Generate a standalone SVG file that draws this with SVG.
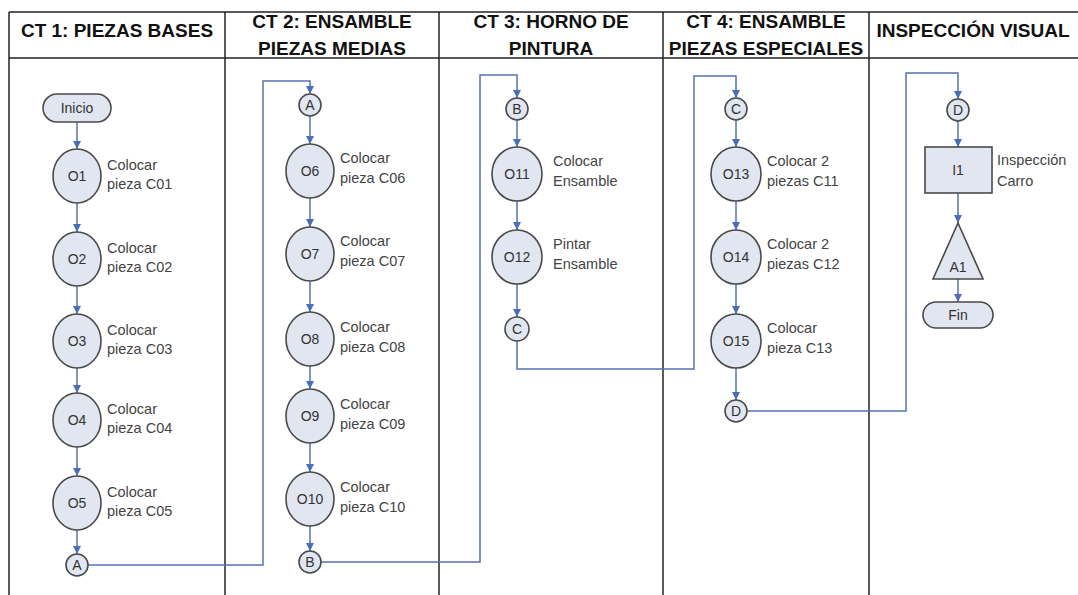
<svg xmlns="http://www.w3.org/2000/svg" width="1078" height="595" viewBox="0 0 1078 595">
<style>
.grid{stroke:#222;stroke-width:1.5;fill:none}
.hdr{font-family:"Liberation Sans",Arial,sans-serif;font-weight:bold;font-size:19px;fill:#111;text-anchor:middle}
.nd{fill:#e1e6f0;stroke:#4a4a4a;stroke-width:1.6}
.nt{font-family:"Liberation Sans",Arial,sans-serif;font-size:14px;fill:#333;text-anchor:middle}
.lb{font-family:"Liberation Sans",Arial,sans-serif;font-size:14.5px;fill:#444}
.cn{fill:none;stroke:#5473b0;stroke-width:1.5;marker-end:url(#ah)}
</style>
<defs>
<marker id="ah" viewBox="0 0 10 10" refX="10" refY="5" markerWidth="8" markerHeight="8" markerUnits="userSpaceOnUse" orient="auto">
<path d="M0,0 L10,5 L0,10 z" fill="#4a6fb8"/>
</marker>
</defs>
<rect width="1078" height="595" fill="#fff"/>
<g id="table">
<line class="grid" x1="9" y1="12" x2="1078" y2="12"/>
<line class="grid" x1="9" y1="58" x2="1078" y2="58"/>
<line class="grid" x1="9" y1="12" x2="9" y2="595"/>
<line class="grid" x1="225" y1="12" x2="225" y2="595"/>
<line class="grid" x1="439" y1="12" x2="439" y2="595"/>
<line class="grid" x1="663" y1="12" x2="663" y2="595"/>
<line class="grid" x1="869" y1="12" x2="869" y2="595"/>
<text class="hdr" x="117" y="37">CT 1: PIEZAS BASES</text>
<text class="hdr" x="332" y="28">CT 2: ENSAMBLE</text>
<text class="hdr" x="332" y="55">PIEZAS MEDIAS</text>
<text class="hdr" x="551" y="28">CT 3: HORNO DE</text>
<text class="hdr" x="551" y="55">PINTURA</text>
<text class="hdr" x="766" y="28">CT 4: ENSAMBLE</text>
<text class="hdr" x="766" y="55">PIEZAS ESPECIALES</text>
<text class="hdr" x="973" y="37">INSPECCIÓN VISUAL</text>
</g>
<g id="connectors">
<path class="cn" d="M77,122 V149"/>
<path class="cn" d="M77,203 V232"/>
<path class="cn" d="M77,286 V314"/>
<path class="cn" d="M77,368 V393"/>
<path class="cn" d="M77,447 V476"/>
<path class="cn" d="M77,530 V554"/>
<path class="cn" d="M88,565 H263 V81 H310 V94"/>
<path class="cn" d="M310,116 V144"/>
<path class="cn" d="M310,198 V227"/>
<path class="cn" d="M310,281 V312"/>
<path class="cn" d="M310,366 V389"/>
<path class="cn" d="M310,443 V472"/>
<path class="cn" d="M310,526 V551"/>
<path class="cn" d="M321,562 H480 V75 H517 V98"/>
<path class="cn" d="M517,120 V147"/>
<path class="cn" d="M517,201 V230"/>
<path class="cn" d="M517,284 V317"/>
<path class="cn" d="M517,341 V369 H694 V76 H736 V98"/>
<path class="cn" d="M736,120 V147"/>
<path class="cn" d="M736,201 V230"/>
<path class="cn" d="M736,284 V314"/>
<path class="cn" d="M736,368 V400"/>
<path class="cn" d="M747,411 H906 V73 H958 V99"/>
<path class="cn" d="M958,121 V147"/>
<path class="cn" d="M958,193 V223"/>
<path class="cn" d="M958,279 V302"/>
</g>
<g id="inicio"><rect class="nd" x="43" y="94" width="68" height="28" rx="14"/><text class="nt" x="77" y="113">Inicio</text></g>
<g id="o1"><ellipse class="nd" cx="77" cy="176" rx="24" ry="27"/><text class="nt" x="77" y="181">O1</text><text class="lb" x="107" y="170">Colocar</text><text class="lb" x="107" y="189">pieza C01</text></g>
<g id="o2"><ellipse class="nd" cx="77" cy="259" rx="24" ry="27"/><text class="nt" x="77" y="264">O2</text><text class="lb" x="107" y="253">Colocar</text><text class="lb" x="107" y="272">pieza C02</text></g>
<g id="o3"><ellipse class="nd" cx="77" cy="341" rx="24" ry="27"/><text class="nt" x="77" y="346">O3</text><text class="lb" x="107" y="335">Colocar</text><text class="lb" x="107" y="354">pieza C03</text></g>
<g id="o4"><ellipse class="nd" cx="77" cy="420" rx="24" ry="27"/><text class="nt" x="77" y="425">O4</text><text class="lb" x="107" y="414">Colocar</text><text class="lb" x="107" y="433">pieza C04</text></g>
<g id="o5"><ellipse class="nd" cx="77" cy="503" rx="24" ry="27"/><text class="nt" x="77" y="508">O5</text><text class="lb" x="107" y="497">Colocar</text><text class="lb" x="107" y="516">pieza C05</text></g>
<g id="a-out"><circle class="nd" cx="77" cy="565" r="11"/><text class="nt" x="77" y="570">A</text></g>
<g id="a-in"><circle class="nd" cx="310" cy="105" r="11"/><text class="nt" x="310" y="110">A</text></g>
<g id="o6"><ellipse class="nd" cx="310" cy="171" rx="24" ry="27"/><text class="nt" x="310" y="176">O6</text><text class="lb" x="340" y="163">Colocar</text><text class="lb" x="340" y="183">pieza C06</text></g>
<g id="o7"><ellipse class="nd" cx="310" cy="254" rx="24" ry="27"/><text class="nt" x="310" y="259">O7</text><text class="lb" x="340" y="246">Colocar</text><text class="lb" x="340" y="266">pieza C07</text></g>
<g id="o8"><ellipse class="nd" cx="310" cy="339" rx="24" ry="27"/><text class="nt" x="310" y="344">O8</text><text class="lb" x="340" y="332">Colocar</text><text class="lb" x="340" y="352">pieza C08</text></g>
<g id="o9"><ellipse class="nd" cx="310" cy="416" rx="24" ry="27"/><text class="nt" x="310" y="421">O9</text><text class="lb" x="340" y="409">Colocar</text><text class="lb" x="340" y="429">pieza C09</text></g>
<g id="o10"><ellipse class="nd" cx="310" cy="499" rx="24" ry="27"/><text class="nt" x="310" y="504">O10</text><text class="lb" x="340" y="492">Colocar</text><text class="lb" x="340" y="512">pieza C10</text></g>
<g id="b-out"><circle class="nd" cx="310" cy="562" r="11"/><text class="nt" x="310" y="567">B</text></g>
<g id="b-in"><circle class="nd" cx="517" cy="109" r="11"/><text class="nt" x="517" y="114">B</text></g>
<g id="o11"><ellipse class="nd" cx="517" cy="174" rx="25" ry="27"/><text class="nt" x="517" y="179">O11</text><text class="lb" x="553" y="166">Colocar</text><text class="lb" x="553" y="186">Ensamble</text></g>
<g id="o12"><ellipse class="nd" cx="517" cy="257" rx="25" ry="27"/><text class="nt" x="517" y="262">O12</text><text class="lb" x="553" y="249">Pintar</text><text class="lb" x="553" y="269">Ensamble</text></g>
<g id="c-out"><circle class="nd" cx="517" cy="329" r="12"/><text class="nt" x="517" y="334">C</text></g>
<g id="c-in"><circle class="nd" cx="736" cy="109" r="11"/><text class="nt" x="736" y="114">C</text></g>
<g id="o13"><ellipse class="nd" cx="736" cy="174" rx="25" ry="27"/><text class="nt" x="736" y="179">O13</text><text class="lb" x="767" y="166">Colocar 2</text><text class="lb" x="767" y="186">piezas C11</text></g>
<g id="o14"><ellipse class="nd" cx="736" cy="257" rx="25" ry="27"/><text class="nt" x="736" y="262">O14</text><text class="lb" x="767" y="249">Colocar 2</text><text class="lb" x="767" y="269">piezas C12</text></g>
<g id="o15"><ellipse class="nd" cx="736" cy="341" rx="25" ry="27"/><text class="nt" x="736" y="346">O15</text><text class="lb" x="767" y="333">Colocar</text><text class="lb" x="767" y="353">pieza C13</text></g>
<g id="d-out"><circle class="nd" cx="736" cy="411" r="11"/><text class="nt" x="736" y="416">D</text></g>
<g id="d-in"><circle class="nd" cx="958" cy="110" r="11"/><text class="nt" x="958" y="115">D</text></g>
<g id="i1"><rect class="nd" x="925" y="147" width="67" height="46"/><text class="nt" x="958" y="175">I1</text><text class="lb" x="997" y="165">Inspección</text><text class="lb" x="997" y="186">Carro</text></g>
<g id="a1"><path class="nd" d="M958,223 L983,279 L933,279 Z"/><text class="nt" x="958" y="272">A1</text></g>
<g id="fin"><rect class="nd" x="923" y="302" width="70" height="26" rx="13"/><text class="nt" x="958" y="320">Fin</text></g>
</svg>
